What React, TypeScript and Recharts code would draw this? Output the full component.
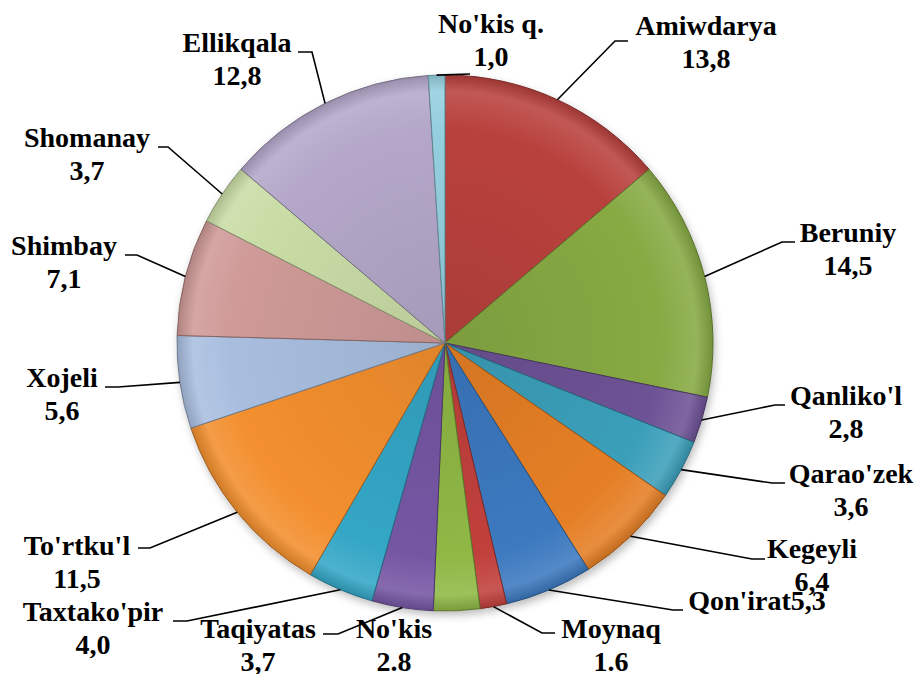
import React from "react";
import { PieChart, Pie, Cell } from "recharts";

// districts, clockwise from 12 o'clock
const districts = [
  "Amiwdarya",
  "Beruniy",
  "Qanliko'l",
  "Qarao'zek",
  "Kegeyli",
  "Qon'irat",
  "Moynaq",
  "No'kis",
  "Taqiyatas",
  "Taxtako'pir",
  "To'rtku'l",
  "Xojeli",
  "Shimbay",
  "Shomanay",
  "Ellikqala",
  "No'kis q.",
];

const shares = [13.8, 14.5, 2.8, 3.6, 6.4, 5.3, 1.6, 2.8, 3.7, 4.0, 11.5, 5.6, 7.1, 3.7, 12.8, 1.0];

// value text exactly as printed on the chart
const shareText = ["13,8", "14,5", "2,8", "3,6", "6,4", "5,3", "1.6", "2.8", "3,7", "4,0", "11,5", "5,6", "7,1", "3,7", "12,8", "1,0"];

const colors = [
  "#b9413d", "#87aa43", "#6d5295", "#3b9fba", "#e57f25", "#3c79bf", "#c1403c", "#8fb845",
  "#7556a3", "#34a6c6", "#f38f2e", "#a9bedf", "#cf9a98", "#cadda6", "#b4a7c9", "#95cfdf",
];

const data = districts.map((name, i) => ({ name, value: shares[i] }));

// manual label placement (text centre / baseline, leader elbow, horizontal stub end)
const labelLayout = [
  { tx: 706, ty: 35, ex: 615, ey: 41, hx: 628 },
  { tx: 848, ty: 242, ex: 782, ey: 242, hx: 795 },
  { tx: 846, ty: 405, ex: 775, ey: 405, hx: 785 },
  { tx: 851, ty: 483, ex: 772, ey: 483, hx: 785 },
  { tx: 812, ty: 558, ex: 752, ey: 559, hx: 765 },
  { tx: 757, ty: 610, ex: 673, ey: 610, hx: 683, inline: true },
  { tx: 611, ty: 638, ex: 542, ey: 633, hx: 555 },
  { tx: 394, ty: 638, noLine: true },
  { tx: 258, ty: 638, ex: 338, ey: 634, hx: 323 },
  { tx: 93, ty: 621, ex: 187, ey: 621, hx: 173 },
  { tx: 77, ty: 555, ex: 150, ey: 548, hx: 138 },
  { tx: 62, ty: 387, ex: 118, ey: 387, hx: 105 },
  { tx: 64, ty: 255, ex: 137, ey: 255, hx: 125 },
  { tx: 87, ty: 147, ex: 168, ey: 147, hx: 158 },
  { tx: 237, ty: 52, ex: 312, ey: 52, hx: 298 },
  { tx: 491, ty: 33, ex: 470, ey: 74, hx: 470 },
];

const CX = 445;
const CY = 343;
const R = 268;
const RAD = Math.PI / 180;
const SERIF = "Liberation Serif, Tinos, Times New Roman, serif";

const labelFont: React.CSSProperties = {
  fontFamily: SERIF,
  fontWeight: 700,
  fontSize: 28,
};

function shade(hex: string, f: number) {
  const n = parseInt(hex.slice(1), 16);
  const ch = [(n >> 16) & 255, (n >> 8) & 255, n & 255].map((c) =>
    Math.round(f >= 0 ? c + (255 - c) * f : c * (1 + f))
  );
  return `rgb(${ch[0]},${ch[1]},${ch[2]})`;
}

// leader lines come from the slice's mid angle given by the library
function renderLeader(props: any) {
  const { cx, cy, midAngle, outerRadius, index } = props;
  const lay: any = labelLayout[index];
  if (lay.noLine) return <g key={`ln-${index}`} />;
  const sx = cx + outerRadius * Math.cos(-midAngle * RAD);
  const sy = cy + outerRadius * Math.sin(-midAngle * RAD);
  return (
    <polyline
      key={`ln-${index}`}
      points={`${sx},${sy} ${lay.ex},${lay.ey} ${lay.hx},${lay.ey}`}
      fill="none"
      stroke="#000"
      strokeWidth={1.6}
    />
  );
}

function LabelTexts() {
  return (
    <svg
      width={919}
      height={674}
      style={{ position: "absolute", left: 0, top: 0, pointerEvents: "none" }}
      fontFamily={SERIF}
    >
      {labelLayout.map((lay: any, i) =>
        lay.inline ? (
          <text key={i} x={lay.tx} y={lay.ty} textAnchor="middle" fontFamily={SERIF} style={labelFont}>
            {districts[i] + shareText[i]}
          </text>
        ) : (
          <g key={i}>
            <text x={lay.tx} y={lay.ty} textAnchor="middle" fontFamily={SERIF} style={labelFont}>
              {districts[i]}
            </text>
            <text x={lay.tx} y={lay.ty + 33} textAnchor="middle" fontFamily={SERIF} style={labelFont}>
              {shareText[i]}
            </text>
          </g>
        )
      )}
    </svg>
  );
}

export default function App() {
  return (
    <div style={{ position: "absolute", left: 0, top: 0, width: 919, height: 674, background: "#fff" }}>
      <PieChart width={919} height={674} margin={{ top: 0, right: 0, bottom: 0, left: 0 }}>
        <defs>
          <filter id="pieShadow" x="-10%" y="-10%" width="120%" height="120%">
            <feDropShadow dx="2" dy="4" stdDeviation="4" floodColor="#000" floodOpacity="0.28" />
          </filter>
          {colors.map((c, i) => (
            <radialGradient key={i} id={`g${i}`} gradientUnits="userSpaceOnUse" cx={CX} cy={CY} r={R}>
              <stop offset="0%" stopColor={shade(c, -0.08)} />
              <stop offset="80%" stopColor={c} />
              <stop offset="94%" stopColor={shade(c, 0.12)} />
              <stop offset="100%" stopColor={shade(c, -0.15)} />
            </radialGradient>
          ))}
        </defs>
        {/* soft shadow under the pie */}
        <Pie
          data={data}
          dataKey="value"
          nameKey="name"
          cx={CX}
          cy={CY}
          outerRadius={R}
          startAngle={90}
          endAngle={-270}
          fill="#fff"
          stroke="none"
          label={false}
          labelLine={false}
          isAnimationActive={false}
          style={{ filter: "url(#pieShadow)" }}
        />
        <Pie
          data={data}
          dataKey="value"
          nameKey="name"
          cx={CX}
          cy={CY}
          outerRadius={R}
          startAngle={90}
          endAngle={-270}
          label={renderLeader}
          labelLine={false}
          isAnimationActive={false}
        >
          {data.map((d, i) => (
            <Cell key={d.name} fill={`url(#g${i})`} stroke={shade(colors[i], -0.35)} strokeWidth={1} />
          ))}
        </Pie>
      </PieChart>
      <LabelTexts />
    </div>
  );
}
